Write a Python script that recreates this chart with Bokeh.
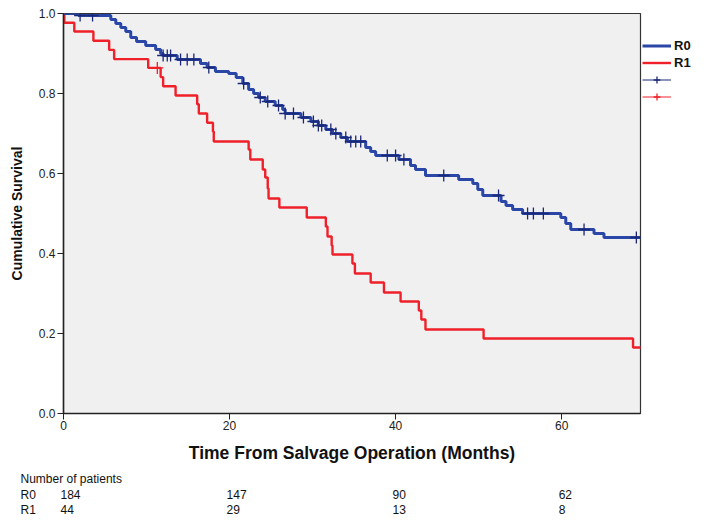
import numpy as np
from bokeh.plotting import figure
from bokeh.layouts import column
from bokeh.models import Range1d, Legend, LegendItem, FixedTicker, NumeralTickFormatter
from bokeh.embed import file_html
from bokeh.resources import INLINE
from bokeh.core.properties import value

# ---------------- data ----------------
# R0 group: event times (months) and survival level after each step
r0_times = [0, 1.8, 5.7, 6.3, 6.9, 7.5, 8.1, 8.8, 9.9, 11.1, 11.7, 12.0, 13.7, 16.5, 17.3,
            18.3, 19.9, 20.8, 21.6, 22.3, 22.9, 23.5, 24.3, 25.5, 26.4, 26.7, 28.6, 29.8,
            30.7, 31.6, 32.4, 33.4, 34.2, 36.4, 37.0, 37.6, 40.4, 41.8, 42.4, 43.6, 47.6,
            49.3, 49.9, 50.5, 52.7, 53.3, 54.1, 55.3, 59.9, 60.5, 61.1, 63.9, 65.1]
r0_surv = [1.0, 0.995, 0.985, 0.975, 0.965, 0.955, 0.94, 0.93, 0.92, 0.91, 0.90, 0.895,
           0.885, 0.875, 0.865, 0.855, 0.85, 0.84, 0.825, 0.81, 0.80, 0.79, 0.78, 0.77,
           0.76, 0.75, 0.74, 0.73, 0.72, 0.71, 0.70, 0.69, 0.68, 0.665, 0.655, 0.645,
           0.635, 0.62, 0.61, 0.595, 0.585, 0.575, 0.56, 0.545, 0.53, 0.52, 0.51, 0.50,
           0.49, 0.475, 0.46, 0.45, 0.44]
r0_end = 69.5
r0_censor = [2.0, 3.5, 12.0, 12.5, 12.9, 14.1, 14.9, 15.7, 17.5, 21.7, 23.7, 24.6, 25.9,
             26.7, 27.7, 28.9, 30.1, 30.7, 31.1, 32.2, 32.8, 34.0, 34.6, 35.2, 35.8, 39.0,
             40.0, 41.0, 45.8, 52.4, 55.9, 56.6, 57.8, 62.7, 69.0]

# R1 group
r1_times = [0, 0.1, 1.3, 3.6, 5.5, 6.1, 10.2, 11.7, 12.0, 13.5, 16.1, 16.3, 17.3, 18.0,
            18.1, 22.3, 22.5, 24.0, 24.3, 24.6, 24.7, 26.0, 29.3, 31.6, 31.8, 32.3, 32.4,
            34.8, 35.1, 37.0, 38.6, 40.6, 42.8, 43.1, 43.6, 50.6, 68.6]
r1_surv = [1.0, 0.977, 0.955, 0.932, 0.909, 0.886, 0.864, 0.841, 0.818, 0.795, 0.773,
           0.75, 0.727, 0.705, 0.68, 0.66, 0.635, 0.61, 0.59, 0.5625, 0.5375, 0.515, 0.49,
           0.4675, 0.4425, 0.42, 0.3975, 0.375, 0.35, 0.3275, 0.3025, 0.28, 0.2575, 0.235,
           0.21, 0.1875, 0.165]
r1_end = 69.8
r1_censor = [11.3]

x_ticks = [0, 20, 40, 60]
y_ticks = [0.0, 0.2, 0.4, 0.6, 0.8, 1.0]

risk_times = [0, 20, 40, 60]
risk_r0 = [184, 147, 90, 62]
risk_r1 = [44, 29, 13, 8]
groups = ["R0", "R1"]
table_title = "Number of patients"

# ---------------- helpers ----------------
def step_xy(times, surv, end):
    return list(times) + [end], list(surv) + [surv[-1]]

def surv_at(times, surv, t):
    idx = np.searchsorted(np.asarray(times), np.asarray(t), side="right") - 1
    return list(np.asarray(surv)[idx])

BLUE = "#2a46a6"
BLUE_DARK = "#1b2878"
RED = "#f0202a"
FONT = "Liberation Sans"

X_MAX = 69.5
LEFT, FRAME_W, RIGHT = 63, 577, 62
TOP, FRAME_H, BOTTOM = 13, 400, 50
TABLE_H = 56

p = figure(frame_width=FRAME_W, frame_height=FRAME_H,
           x_range=Range1d(0, X_MAX), y_range=Range1d(0, 1.0),
           output_backend="svg", toolbar_location=None,
           min_border_left=LEFT, min_border_right=RIGHT, min_border_top=TOP,
           min_border_bottom=BOTTOM,
           background_fill_color="#f0f0f0", border_fill_color="white")
p.frame_align = False

p.outline_line_color = "#333333"
p.outline_line_width = 1.2
p.xgrid.visible = False
p.ygrid.visible = False

for ax in (p.xaxis[0], p.yaxis[0]):
    ax.axis_line_color = "#222222"
    ax.axis_line_width = 1.5
    ax.major_tick_line_color = "#222222"
    ax.major_tick_out = 6
    ax.major_tick_in = 0
    ax.minor_tick_line_color = None
    ax.major_label_text_font = FONT
    ax.major_label_text_font_size = "12px"
    ax.major_label_text_color = "#222222"
    ax.axis_label_text_font = FONT
    ax.axis_label_text_font_style = "bold"
    ax.axis_label_text_color = "#111111"

p.xaxis.ticker = FixedTicker(ticks=x_ticks)
p.yaxis.ticker = FixedTicker(ticks=y_ticks)
p.yaxis.formatter = NumeralTickFormatter(format="0.0")
p.xaxis.axis_label = "Time From Salvage Operation (Months)"
p.yaxis.axis_label = "Cumulative Survival"
p.xaxis.axis_label_text_font_size = "17.5px"
p.yaxis.axis_label_text_font_size = "14px"
p.xaxis.major_label_standoff = 1
p.yaxis.major_label_standoff = 2
p.xaxis.axis_label_standoff = 10
p.yaxis.axis_label_standoff = 11

# curves
x0, y0 = step_xy(r0_times, r0_surv, r0_end)
x1, y1 = step_xy(r1_times, r1_surv, r1_end)
l1 = p.step(x1, y1, mode="after", line_color=RED, line_width=2.4)
l0 = p.step(x0, y0, mode="after", line_color=BLUE, line_width=3)

c0 = p.scatter(r0_censor, surv_at(r0_times, r0_surv, r0_censor), marker="cross",
               size=12, line_color=BLUE_DARK, line_width=1.3)
c1 = p.scatter(r1_censor, surv_at(r1_times, r1_surv, r1_censor), marker="cross",
               size=12, line_color=RED, line_width=1.3)

# legend-only lines (no visible data) to give the censor icons their thin line
lg0 = p.line([np.nan, np.nan], [np.nan, np.nan], line_color=BLUE_DARK, line_width=1)
lg1 = p.line([np.nan, np.nan], [np.nan, np.nan], line_color=RED, line_width=1)

legend = Legend(items=[
    LegendItem(label=groups[0], renderers=[l0]),
    LegendItem(label=groups[1], renderers=[l1]),
    LegendItem(label="", renderers=[lg0, c0]),
    LegendItem(label="", renderers=[lg1, c1]),
], location=(2, 308))
legend.border_line_color = None
legend.background_fill_alpha = 0
legend.label_text_font = FONT
legend.label_text_font_style = "bold"
legend.label_text_font_size = "13px"
legend.label_text_color = "#111111"
legend.glyph_width = 29
legend.glyph_height = 17
legend.label_height = 17
legend.label_standoff = 3
legend.spacing = 0
legend.padding = 0
legend.margin = 0
p.add_layout(legend, "right")

# ---------------- number-at-risk table ----------------
TOTAL_W = LEFT + FRAME_W + RIGHT
px_per_month = FRAME_W / X_MAX
t = figure(frame_width=TOTAL_W, frame_height=TABLE_H,
           x_range=Range1d(-LEFT / px_per_month, (TOTAL_W - LEFT) / px_per_month),
           y_range=Range1d(0, TABLE_H),
           output_backend="svg", toolbar_location=None,
           min_border_left=0, min_border_right=0, min_border_top=0, min_border_bottom=0,
           outline_line_color=None, background_fill_color="white",
           x_axis_location=None, y_axis_location=None)
t.frame_align = False
t.grid.visible = False

row_y = [TABLE_H - 13, TABLE_H - 29, TABLE_H - 44]
tbl_style = dict(text_font=value(FONT), text_font_size="12px", text_baseline="middle",
                 text_color="#111111")
t.text(x=[0], y=[row_y[0]], text=[table_title], x_offset=-43, **tbl_style)
t.text(x=[0, 0], y=row_y[1:], text=groups, x_offset=-43, **tbl_style)
for gi, counts in enumerate([risk_r0, risk_r1]):
    t.text(x=risk_times, y=[row_y[gi + 1]] * len(risk_times),
           text=[str(n) for n in counts], x_offset=-3, **tbl_style)

layout = column(p, t, spacing=0)
open("out.html", "w").write(file_html(layout, INLINE))
